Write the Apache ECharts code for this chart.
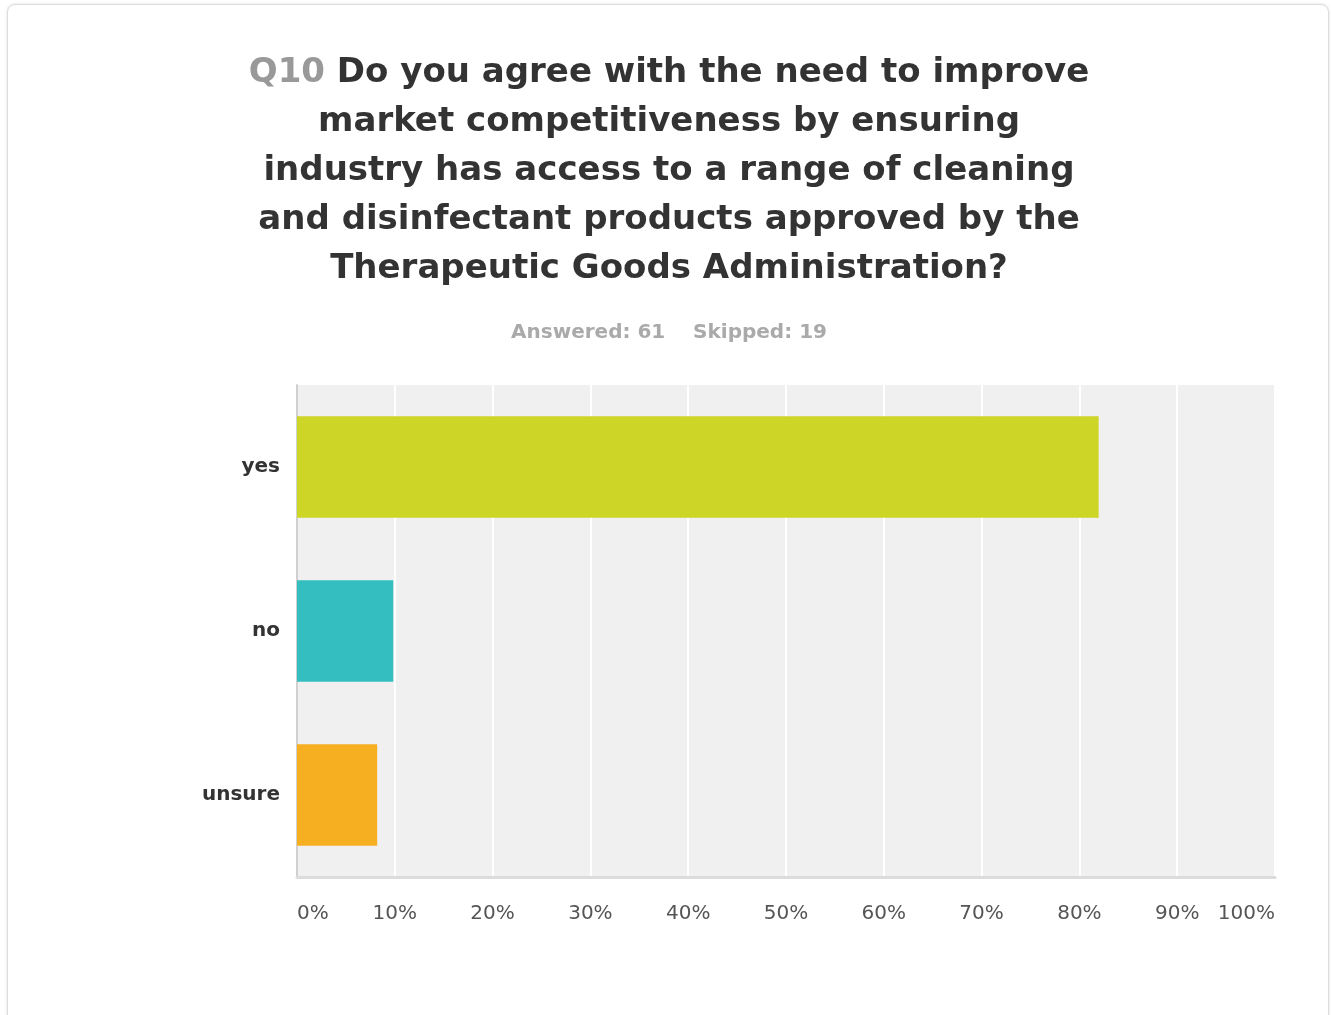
<!DOCTYPE html>
<html><head><meta charset="utf-8">
<script src="https://cdn.jsdelivr.net/npm/echarts@6/dist/echarts.min.js"></script>
<style>
html,body{margin:0;padding:0;background:#fff;}
#card{position:absolute;left:7px;top:4px;width:1320px;height:1030px;border:1px solid #ddd;border-radius:8px;box-shadow:0 0 3px rgba(0,0,0,0.12);background:#fff;}
#chart{position:absolute;left:0;top:0;width:1331px;height:1015px;}
</style></head>
<body>
<div id="card"></div>
<div id="chart"></div>
<script>
const questionNo = 'Q10';
const titleLines = [
  'Do you agree with the need to improve',
  'market competitiveness by ensuring',
  'industry has access to a range of cleaning',
  'and disinfectant products approved by the',
  'Therapeutic Goods Administration?'
];
const subtitle = 'Answered: 61    Skipped: 19';
const categories = ['yes', 'no', 'unsure'];
const values = [81.97, 9.84, 8.20];
const colors = ['#cdd527', '#35bec0', '#f6af21'];

const FONT = 'DejaVu Sans, Verdana, sans-serif';
const chart = echarts.init(document.getElementById('chart'), null, {renderer: 'canvas'});
const titleText = '{q|' + questionNo + '} ' + titleLines[0] + '\n' + titleLines.slice(1).join('\n');
chart.setOption({
  animation: false,
  title: [{
    text: titleText,
    left: 664, top: 44, textAlign: 'center',
    textStyle: {
      fontFamily: FONT, fontSize: 34, fontWeight: 'bold',
      color: '#333', lineHeight: 49,
      rich: { q: {color: '#999', fontSize: 34, fontWeight: 'bold', fontFamily: FONT, lineHeight: 49} }
    }
  }, {
    text: subtitle,
    left: 664, top: 318, textAlign: 'center',
    textStyle: {fontFamily: FONT, fontSize: 20, fontWeight: 'bold', color: '#aaa'}
  }],
  grid: {left: 297, right: 56, top: 385, bottom: 138, show: true, backgroundColor: '#f0f0f0', borderWidth: 0, containLabel: false},
  xAxis: {
    type: 'value', min: 0, max: 100, interval: 10,
    axisLine: {show: true, lineStyle: {color: '#dcdcdc', width: 3}},
    axisTick: {show: false},
    splitLine: {show: true, lineStyle: {color: '#ffffff', width: 2}},
    axisLabel: {
      formatter: '{value}%', margin: 27, color: '#555', fontSize: 20,
      fontFamily: FONT,
      alignMinLabel: 'left', alignMaxLabel: 'right'
    }
  },
  yAxis: {
    type: 'category', data: categories, inverse: true,
    axisLine: {show: true, lineStyle: {color: '#d0d0d0', width: 2}},
    axisTick: {show: false},
    splitLine: {show: false},
    axisLabel: {margin: 17, color: '#333', fontSize: 20, fontWeight: 'bold', fontFamily: FONT}
  },
  series: [{
    type: 'bar',
    data: values.map((v, i) => ({value: v, itemStyle: {color: colors[i]}})),
    barCategoryGap: '38%'
  }]
});
</script>
</body></html>
